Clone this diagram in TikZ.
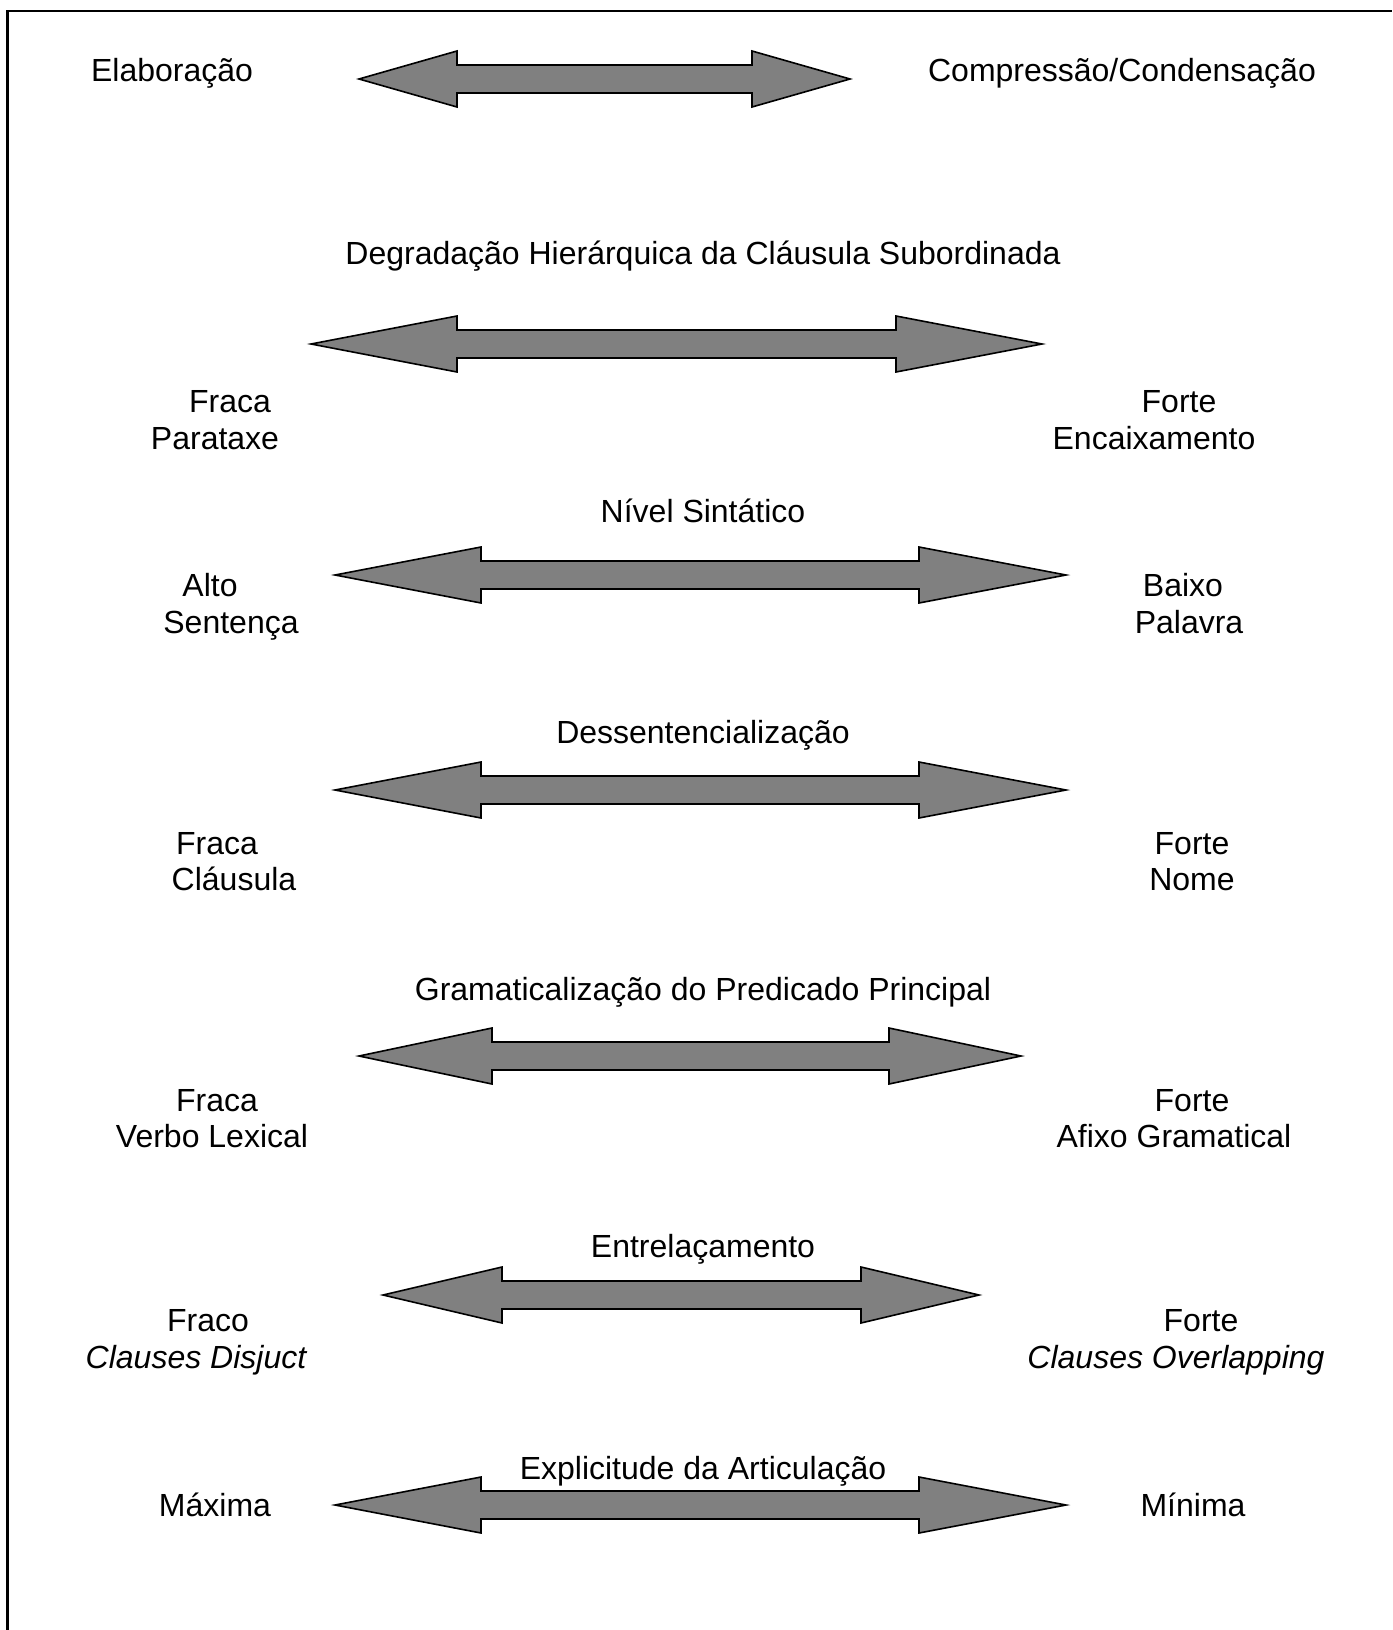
\documentclass[tikz,border=0pt]{standalone}
\usepackage{fontspec}
\setmainfont{Liberation Sans}
\definecolor{arrowgray}{RGB}{128,128,128}
\begin{document}
\begin{tikzpicture}[x=1pt,y=-1pt,
  lbl/.style={anchor=base,inner sep=0pt,font=\fontsize{32}{38}\selectfont},
  ilbl/.style={lbl,font=\fontsize{32}{38}\selectfont\itshape},
  bigarrow/.style={draw=black,line width=1.6pt,fill=arrowgray,line join=miter},
  frameline/.style={draw=black,line width=2.4pt}]
\useasboundingbox (0,0) rectangle (1392,1630);
\newcommand{\dblarrow}[5]{%
  \path[bigarrow] (#1,#5) -- (#2,#5-28) -- (#2,#5-14) -- (#3,#5-14) -- (#3,#5-28) -- (#4,#5)
    -- (#3,#5+28) -- (#3,#5+14) -- (#2,#5+14) -- (#2,#5+28) -- cycle;}
% frame (only top and left edges visible)
\path[frameline] (7.5,1630) -- (7.5,11) -- (1392,11);
% row 1
\node[lbl] (elab) at (172,81) {Elaboração};
\node[lbl] (comp) at (1122,81) {Compressão/Condensação};
\dblarrow{359}{457}{752}{850}{79}
% row 2
\node[lbl] (degr) at (703,264) {Degradação Hierárquica da Cláusula Subordinada};
\dblarrow{311}{457}{896}{1042}{344}
\node[lbl] (fraca1) at (230,412) {Fraca};
\node[lbl] (parat) at (215,449) {Parataxe};
\node[lbl] (forte1) at (1179,412) {Forte};
\node[lbl] (encai) at (1154,449) {Encaixamento};
% row 3
\node[lbl] (nivel) at (703,522) {Nível Sintático};
\dblarrow{335}{481}{919}{1066}{575}
\node[lbl] (alto) at (210,596) {Alto};
\node[lbl] (sent) at (231,633) {Sentença};
\node[lbl] (baixo) at (1183,596) {Baixo};
\node[lbl] (palav) at (1189,633) {Palavra};
% row 4
\node[lbl] (dess) at (703,743) {Dessentencialização};
\dblarrow{335}{481}{919}{1066}{790}
\node[lbl] (fraca2) at (217,854) {Fraca};
\node[lbl] (claus) at (234,890) {Cláusula};
\node[lbl] (forte2) at (1192,854) {Forte};
\node[lbl] (nome) at (1192,890) {Nome};
% row 5
\node[lbl] (grama) at (703,1000) {Gramaticalização do Predicado Principal};
\dblarrow{359}{492}{889}{1021}{1056}
\node[lbl] (fraca3) at (217,1111) {Fraca};
\node[lbl] (verbo) at (212,1147) {Verbo Lexical};
\node[lbl] (forte3) at (1192,1111) {Forte};
\node[lbl] (afixo) at (1174,1147) {Afixo Gramatical};
% row 6
\node[lbl] (entre) at (703,1257) {Entrelaçamento};
\dblarrow{383}{502}{861}{979}{1295}
\node[lbl] (fraco) at (208,1331) {Fraco};
\node[ilbl] (disj) at (196,1368) {Clauses Disjuct};
\node[lbl] (forte4) at (1201,1331) {Forte};
\node[ilbl] (overl) at (1176,1368) {Clauses Overlapping};
% row 7
\node[lbl] (expl) at (703,1479) {Explicitude da Articulação};
\dblarrow{335}{481}{919}{1066}{1505}
\node[lbl] (maxi) at (215,1516) {Máxima};
\node[lbl] (mini) at (1193,1516) {Mínima};
\end{tikzpicture}
\end{document}
